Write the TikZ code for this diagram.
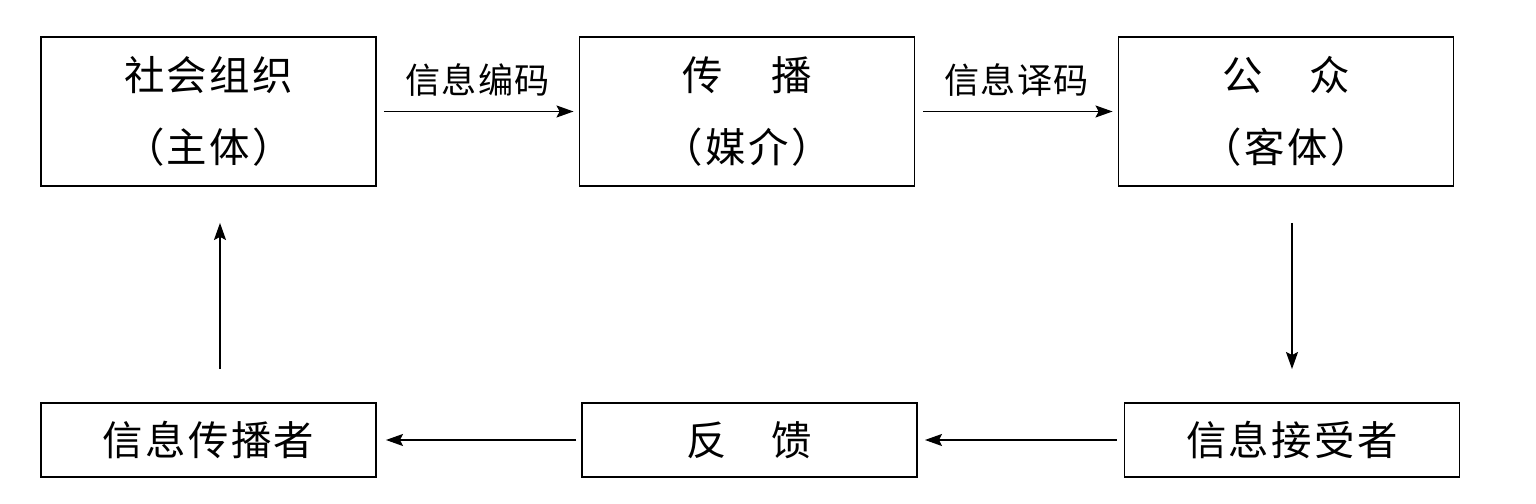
\documentclass[tikz,border=0pt]{standalone}
\usepackage{fontspec}
\setmainfont{Noto Sans CJK SC}
\usetikzlibrary{arrows.meta}
\begin{document}
\begin{tikzpicture}[
    box/.style={draw, line width=1.1pt, minimum width=6.7cm, align=center, inner sep=0pt, font=\fontsize{23}{41}\selectfont\addfontfeatures{LetterSpace=6}},
    tall/.style={box, minimum height=2.98cm},
    flat/.style={box, minimum height=1.48cm},
    flow/.style={-{Stealth[length=0.34cm, width=0.24cm, inset=0.06cm]}, line width=0.8pt},
    label/.style={font=\fontsize{20}{24}\selectfont\addfontfeatures{LetterSpace=4}}
]
    \useasboundingbox (0,0) rectangle (30.72,10.08);

    % Upper row
    \node[tall] (org) at (4.17,7.85) {社会组织\\（主体）};
    \node[tall] (media) at (14.94,7.85) {传\hspace{1.2em}播\\（媒介）};
    \node[tall] (public) at (25.72,7.85) {公\hspace{1.15em}众\\（客体）};

    % Lower row
    \node[flat] (sender) at (4.17,1.28) {信息传播者};
    \node[flat] (feedback) at (14.99,1.28) {反\hspace{1.1em}馈};
    \node[flat] (receiver) at (25.84,1.28) {信息接受者};

    % Arrows
    \draw[flow, shorten <=0.14cm, shorten >=0.1cm] (org.east) -- (media.west)
        node[label, midway, above=0.18cm] {信息编码};
    \draw[flow, shorten <=0.16cm, shorten >=0.1cm] (media.east) -- (public.west)
        node[label, midway, above=0.18cm] {信息译码};
    \draw[flow, shorten <=0.72cm, shorten >=0.66cm] (public.south -| receiver.north) -- (receiver.north);
    \draw[flow, shorten <=0.14cm, shorten >=0.14cm] (receiver.west) -- (feedback.east);
    \draw[flow, shorten <=0.1cm, shorten >=0.18cm] (feedback.west) -- (sender.east);
    \draw[flow, shorten <=0.66cm, shorten >=0.72cm] ([xshift=0.23cm]sender.north) -- ([xshift=0.23cm]org.south);
\end{tikzpicture}
\end{document}
